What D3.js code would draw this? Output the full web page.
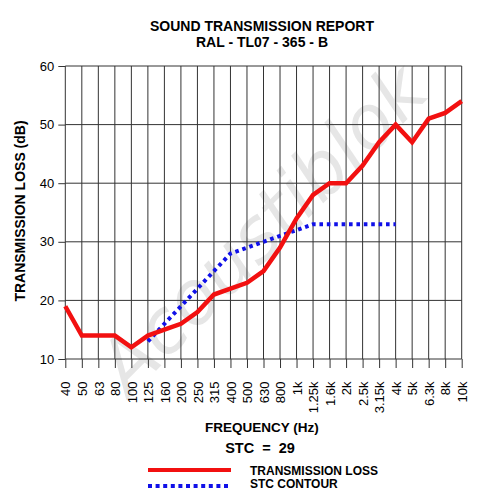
<!DOCTYPE html>
<html>
<head>
<meta charset="utf-8">
<script src="https://cdn.jsdelivr.net/npm/d3@7"></script>
<style>
  body { margin: 0; background: #fff; }
  svg { display: block; font-family: "Liberation Sans", Arial, sans-serif; }
</style>
</head>
<body>
<svg id="chart" width="480" height="499"></svg>
<script>
// frequency bands (Hz)
var bands = ["40", "50", "63", "80", "100", "125", "160", "200", "250", "315", "400", "500",
  "630", "800", "1k", "1.25k", "1.6k", "2k", "2.5k", "3.15k", "4k", "5k", "6.3k", "8k", "10k"];
// measured transmission loss (dB)
var tlValues = [19, 14, 14, 14, 12, 14, 15, 16, 18, 21, 22, 23, 25, 29, 34, 38, 40, 40, 43, 47, 50, 47, 51, 52, 54];
// STC contour bands + values (dB)
var stcBands = ["125", "160", "200", "250", "315", "400", "500", "630", "800", "1k", "1.25k", "1.6k", "2k", "2.5k", "3.15k", "4k"];
var stcValues = [13, 16, 19, 22, 25, 28, 29, 30, 31, 32, 33, 33, 33, 33, 33, 33];
var yTicks = [10, 20, 30, 40, 50, 60];

var svg = d3.select("#chart");

// scales
var x = d3.scalePoint().domain(bands).range([65.3, 461.7]);
var y = d3.scaleLinear().domain([10, 60]).range([359, 66]);

// watermark
svg.append("text")
  .attr("transform", "translate(262,228) rotate(-45)")
  .attr("text-anchor", "middle")
  .attr("dy", "0.35em")
  .style("font-family", "'DejaVu Sans', sans-serif")
  .style("font-style", "italic")
  .style("font-size", "74px")
  .style("fill", "#dedede")
  .style("opacity", 0.75)
  .text("Acoustiblok");

// grid
var g = svg.append("g");
g.selectAll("line.h")
  .data(yTicks)
  .enter().append("line")
  .attr("class", "h")
  .attr("x1", x.range()[0]).attr("x2", x.range()[1])
  .attr("y1", function(d) { return y(d); })
  .attr("y2", function(d) { return y(d); })
  .attr("stroke", "#333").attr("stroke-width", 1);
g.selectAll("line.v")
  .data(bands)
  .enter().append("line")
  .attr("class", "v")
  .attr("x1", function(d) { return x(d); })
  .attr("x2", function(d) { return x(d); })
  .attr("y1", y(60)).attr("y2", y(10))
  .attr("stroke", "#333").attr("stroke-width", 1);

// y axis ticks
var yAxis = svg.append("g")
  .attr("transform", "translate(" + x.range()[0] + ",0)")
  .call(d3.axisLeft(y).tickValues(yTicks).tickSize(7).tickPadding(4));
yAxis.select(".domain").remove();
yAxis.selectAll("line").attr("stroke", "#333");
yAxis.selectAll("text").style("font-size", "13px").style("font-family", "'Liberation Sans', Arial, sans-serif").attr("fill", "#000");

// x axis ticks
var xAxis = svg.append("g")
  .attr("transform", "translate(0," + y(10) + ")")
  .call(d3.axisBottom(x).tickSize(9));
xAxis.select(".domain").remove();
xAxis.selectAll("line").attr("stroke", "#333");
xAxis.selectAll("text")
  .style("font-size", "13px")
  .style("font-family", "'Liberation Sans', Arial, sans-serif")
  .attr("fill", "#000")
  .attr("transform", "rotate(-90)")
  .attr("text-anchor", "end")
  .attr("x", -22.5)
  .attr("y", 0)
  .attr("dy", "0.36em");

// lines
var line = d3.line()
  .x(function(d) { return x(d[0]); })
  .y(function(d) { return y(d[1]); });

svg.append("path")
  .datum(d3.zip(stcBands, stcValues))
  .attr("d", line)
  .attr("fill", "none")
  .attr("stroke", "#1010e8")
  .attr("stroke-width", 4)
  .attr("stroke-dasharray", "3.6,3.8");

svg.append("path")
  .datum(d3.zip(bands, tlValues))
  .attr("d", line)
  .attr("fill", "none")
  .attr("stroke", "#f21010")
  .attr("stroke-width", 4.5)
  .attr("stroke-linejoin", "miter");

// titles
svg.append("text").attr("x", 262).attr("y", 31).attr("text-anchor", "middle")
  .style("font-size", "14px").style("font-weight", "bold").text("SOUND TRANSMISSION REPORT");
svg.append("text").attr("x", 262).attr("y", 47).attr("text-anchor", "middle")
  .style("font-size", "14px").style("font-weight", "bold").text("RAL - TL07 - 365 - B");

svg.append("text")
  .attr("transform", "translate(25,211) rotate(-90)")
  .attr("text-anchor", "middle")
  .style("font-size", "14px").style("font-weight", "bold")
  .text("TRANSMISSION LOSS (dB)");

svg.append("text").attr("x", 262).attr("y", 432).attr("text-anchor", "middle")
  .style("font-size", "13.5px").style("font-weight", "bold").text("FREQUENCY (Hz)");
svg.append("text").attr("x", 260).attr("y", 453).attr("text-anchor", "middle")
  .style("font-size", "14.5px").style("font-weight", "bold").style("white-space", "pre")
  .text("STC  =  29");

// legend
var legend = svg.append("g");
legend.append("line").attr("x1", 148).attr("x2", 231).attr("y1", 470).attr("y2", 470)
  .attr("stroke", "#f21010").attr("stroke-width", 4);
legend.append("line").attr("x1", 148).attr("x2", 231).attr("y1", 486).attr("y2", 486)
  .attr("stroke", "#1010e8").attr("stroke-width", 4).attr("stroke-dasharray", "4,3.6");
legend.append("text").attr("x", 250).attr("y", 475).style("font-size", "12px").style("font-weight", "bold")
  .text("TRANSMISSION LOSS");
legend.append("text").attr("x", 250).attr("y", 488).style("font-size", "12px").style("font-weight", "bold")
  .text("STC CONTOUR");
</script>
</body>
</html>
